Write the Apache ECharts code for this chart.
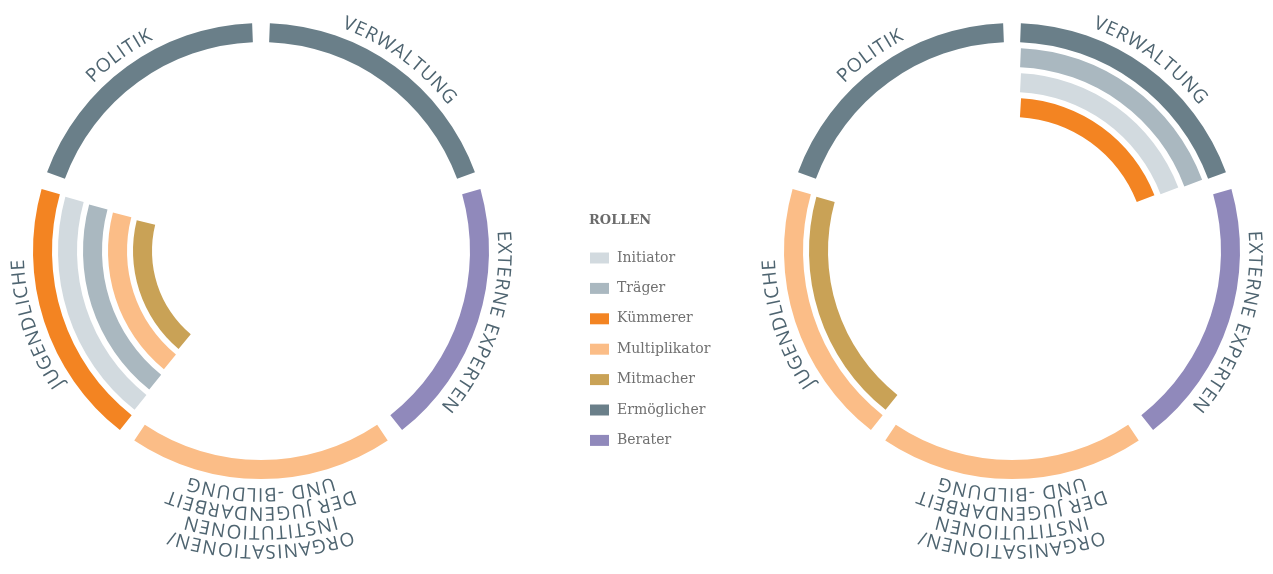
<!DOCTYPE html>
<html><head><meta charset="utf-8">
<script src="https://cdn.jsdelivr.net/npm/echarts@6/dist/echarts.min.js"></script>
<style>html,body{margin:0;padding:0;background:#fff}#c{width:1273px;height:574px}</style>
</head><body><div id="c"></div>
<script>
// ---------- DATA ----------
// sectors listed clockwise starting at 12 o'clock
const sectorNames = ['Verwaltung', 'Externe Experten', 'Organisationen/Institutionen der Jugendarbeit und -bildung', 'Jugendliche', 'Politik'];
const sectorLabels = [
  ['VERWALTUNG'],
  ['EXTERNE EXPERTEN'],
  ['ORGANISATIONEN/', 'INSTITUTIONEN', 'DER JUGENDARBEIT', 'UND -BILDUNG'],
  ['JUGENDLICHE'],
  ['POLITIK']
];
const roleNames = ['Initiator', 'Träger', 'Kümmerer', 'Multiplikator', 'Mitmacher', 'Ermöglicher', 'Berater'];
// roles per sector, from the outer ring inwards
const leftRoles = [
  ['Ermöglicher'],
  ['Berater'],
  ['Multiplikator'],
  ['Kümmerer', 'Initiator', 'Träger', 'Multiplikator', 'Mitmacher'],
  ['Ermöglicher']
];
const rightRoles = [
  ['Ermöglicher', 'Träger', 'Initiator', 'Kümmerer'],
  ['Berater'],
  ['Multiplikator'],
  ['Multiplikator', 'Mitmacher'],
  ['Ermöglicher']
];
const legendTitle = 'ROLLEN';

// ---------- STYLE ----------
const roleColors = {
  'Initiator': '#d2dadf',
  'Träger': '#aab8c0',
  'Kümmerer': '#f38422',
  'Multiplikator': '#fbbd87',
  'Mitmacher': '#c9a256',
  'Ermöglicher': '#6a7f89',
  'Berater': '#9089bb'
};
const CLEAR = 'rgba(0,0,0,0)';
const centers = [[261, 251], [1012, 251]];
const N_LEVELS = 5;
const PITCH = 25, RING_W = 19, OUTER = 231;
const HALF_GAP_PX = 8.5;
const LABEL_FONT_SIZE = 19, LABEL_LS = 1.2, LABEL_COLOR = '#4e6470';
const LABEL_FAMILY = '"Open Sans"';
const LABEL_BASE = 237, LINE_STEP = 19;

const span = 360 / sectorNames.length;
function midRadius(k) { return OUTER - PITCH / 2 - PITCH * k; }
function gapDeg(k) { return 2 * Math.asin(HALF_GAP_PX / midRadius(k)) * 180 / Math.PI; }
const levels = Array.from({length: N_LEVELS}, (_, k) => k);

function buildSeries(rolesPerSector, c) {
  const out = [];
  rolesPerSector.forEach((roles, s) => {
    out.push({
      type: 'bar', coordinateSystem: 'polar', polarIndex: c, stack: 'st' + c,
      barWidth: RING_W, silent: true, z: 2,
      data: levels.map(k => ({value: s === 0 ? gapDeg(k) / 2 : gapDeg(k), itemStyle: {color: CLEAR}}))
    });
    out.push({
      type: 'bar', coordinateSystem: 'polar', polarIndex: c, stack: 'st' + c,
      name: sectorNames[s], barWidth: RING_W, silent: true, z: 2,
      data: levels.map(k => ({
        value: span - gapDeg(k),
        itemStyle: {color: roles[k] ? roleColors[roles[k]] : CLEAR}
      }))
    });
  });
  return out;
}

const legendSeries = roleNames.map(n => ({
  type: 'line', name: n, coordinateSystem: 'polar', polarIndex: 0, data: [],
  color: roleColors[n], itemStyle: {color: roleColors[n]}, lineStyle: {color: roleColors[n]}
}));

// ---------- curved labels ----------
const mctx = document.createElement('canvas').getContext('2d');
function curvedText(cx, cy, text, alphaDeg, rBase) {
  const font = LABEL_FONT_SIZE + 'px ' + LABEL_FAMILY;
  mctx.font = font;
  const chars = Array.from(text);
  const widths = chars.map(ch => mctx.measureText(ch).width);
  const total = widths.reduce((a, b) => a + b, 0) + LABEL_LS * (chars.length - 1);
  const rMid = rBase + LABEL_FONT_SIZE * 0.3;
  let s = -total / 2;
  const els = [];
  chars.forEach((ch, i) => {
    const sc = s + widths[i] / 2;
    s += widths[i] + LABEL_LS;
    if (ch === ' ') return;
    const a = alphaDeg * Math.PI / 180 + sc / rMid;
    els.push({
      type: 'text', silent: true,
      x: cx + rMid * Math.sin(a), y: cy - rMid * Math.cos(a), rotation: -a,
      style: {text: ch, fontSize: LABEL_FONT_SIZE, fontFamily: LABEL_FAMILY, fill: LABEL_COLOR,
        align: 'center', verticalAlign: 'middle'}
    });
  });
  return els;
}
function buildLabels() {
  const els = [];
  centers.forEach(([cx, cy]) => {
    sectorLabels.forEach((lines, s) => {
      const alpha = span * s + span / 2;
      lines.forEach((line, i) => {
        const r = LABEL_BASE + (lines.length - 1 - i) * LINE_STEP;
        els.push(...curvedText(cx, cy, line, alpha, r));
      });
    });
  });
  return els;
}

const chart = echarts.init(document.getElementById('c'), null, {renderer: 'canvas'});
const option = {
  animation: false,
  backgroundColor: '#ffffff',
  title: {
    text: legendTitle, left: 589, top: 214, padding: 0,
    textStyle: {fontFamily: '"DejaVu Serif"', fontSize: 13, fontWeight: 'bold', color: '#6b6b6b'}
  },
  legend: {
    orient: 'vertical', left: 590, top: 250, padding: 0,
    itemWidth: 19, itemHeight: 11, itemGap: 14.4, icon: 'rect', selectedMode: false,
    data: roleNames,
    textStyle: {fontFamily: '"DejaVu Serif"', fontSize: 14, color: '#707070', lineHeight: 16, padding: [0, 0, 0, 3]}
  },
  polar: centers.map(c => ({center: c, radius: [OUTER - PITCH * N_LEVELS, OUTER]})),
  angleAxis: centers.map((c, i) => ({polarIndex: i, type: 'value', min: 0, max: 360, startAngle: 90, clockwise: true, show: false})),
  radiusAxis: centers.map((c, i) => ({polarIndex: i, type: 'category', data: levels.map(k => 'Ebene ' + (k + 1)), inverse: true, show: false})),
  series: [...buildSeries(leftRoles, 0), ...buildSeries(rightRoles, 1), ...legendSeries],
  graphic: buildLabels()
};
chart.setOption(option);
</script>
</body></html>
